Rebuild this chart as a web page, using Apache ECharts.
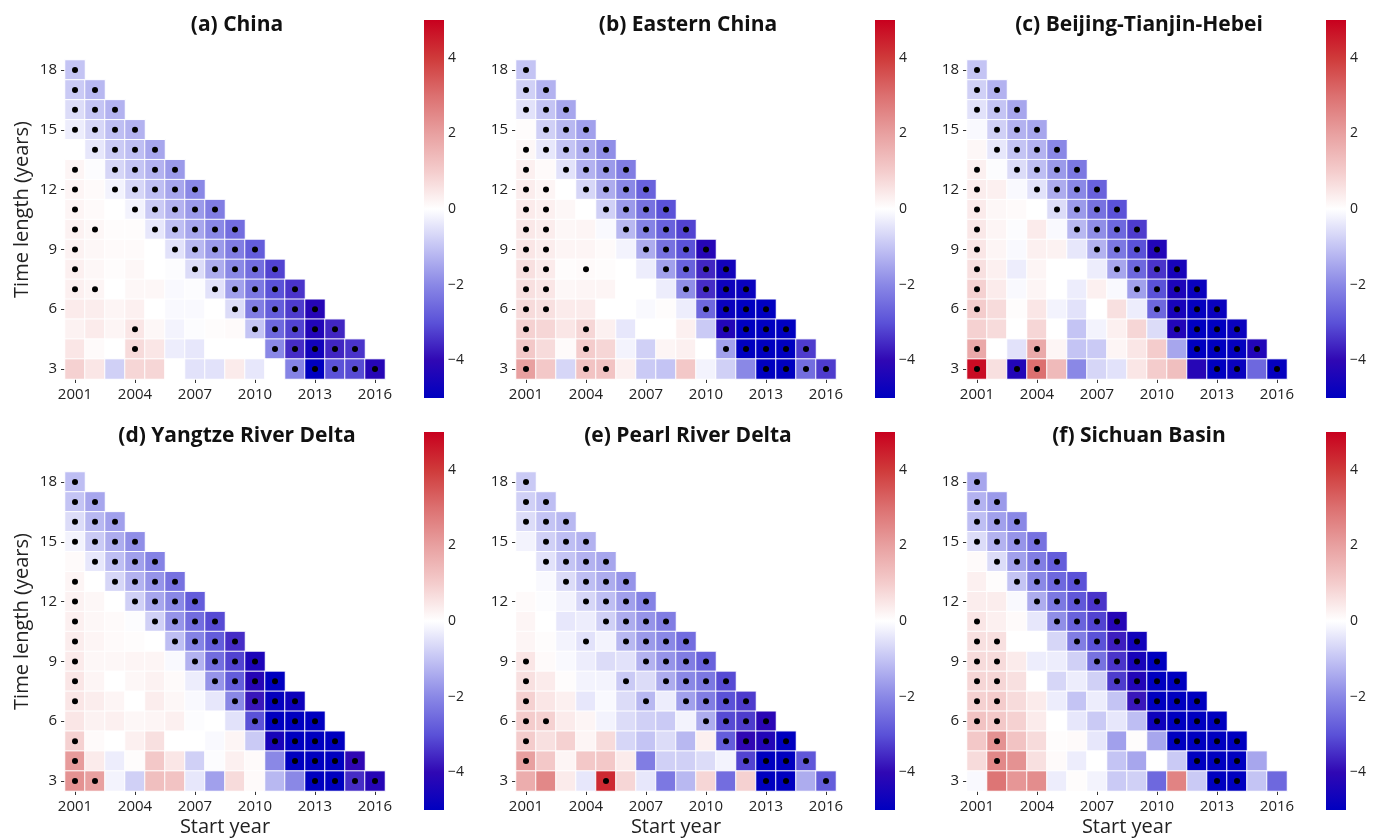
<!DOCTYPE html>
<html><head><meta charset="utf-8">
<script src="https://cdn.jsdelivr.net/npm/echarts@6/dist/echarts.min.js"></script>
<style>html,body{margin:0;padding:0;background:#fff}#c{width:1374px;height:839px}</style>
</head><body><div id="c"></div>
<script>
const years = ['2001','2002','2003','2004','2005','2006','2007','2008','2009','2010','2011','2012','2013','2014','2015','2016'];
const lengths = ['3','4','5','6','7','8','9','10','11','12','13','14','15','16','17','18'];
const titles = ['(a) China','(b) Eastern China','(c) Beijing-Tianjin-Hebei','(d) Yangtze River Delta','(e) Pearl River Delta','(f) Sichuan Basin'];
const colorbarTicks = [-4,-2,0,2,4];
const scaleMin = -5, scaleMax = 5;
const scaleColors = ['#0000c0','#3008b4','#5b52d8','#8a88e6','#c4c4f4','#ffffff','#f4cccc','#e8a0a0','#dc7070','#cf3a3a','#c8001e'];

// rows from time length 18 (top) down to 3; each row starts at 2001
const chinaVals = [
 [-1.0],
 [-0.9,-1.2],
 [-0.6,-1.0,-1.3],
 [-0.3,-0.7,-1.1,-1.3],
 [0.0,-0.4,-0.9,-1.1,-1.5],
 [0.2,-0.05,-0.7,-1.0,-1.3,-1.7],
 [0.2,0.1,-0.2,-0.7,-1.1,-1.5,-2.0],
 [0.2,0.1,0.0,-0.2,-0.9,-1.3,-1.7,-2.2],
 [0.25,0.15,0.05,0.05,-0.4,-1.1,-1.5,-2.0,-2.5],
 [0.25,0.15,0.1,0.1,0.0,-0.5,-1.2,-1.7,-2.2,-2.8],
 [0.3,0.15,0.05,0.15,0.0,-0.05,-0.6,-1.4,-2.0,-2.5,-3.2],
 [0.3,0.2,0.0,0.15,0.15,-0.1,-0.05,-0.5,-1.6,-2.3,-3.0,-3.4],
 [0.4,0.35,0.2,0.3,0.0,-0.1,-0.1,0.0,-0.6,-2.2,-2.8,-3.3,-4.2],
 [0.25,0.4,0.2,0.5,0.15,-0.2,-0.05,0.05,0.1,-1.0,-2.6,-3.2,-4.3,-3.6],
 [0.5,0.1,0.0,0.7,0.5,-0.3,-0.4,0.0,0.0,0.0,-2.0,-3.5,-4.6,-3.6,-3.4],
 [0.9,0.5,-0.8,0.8,0.8,0.0,-0.5,-0.5,0.4,-0.4,0.0,-2.1,-5.0,-3.0,-3.1,-4.2]
];
const chinaSig = ['1','11','111','1111','01111','101111','1011111','10011111','110011111','1000011111','10000011111','110000011111','0000000011111','00010000011111','000100000011111','0000000000011111'];

const easternVals = [
 [-1.0],
 [-0.8,-1.3],
 [-0.5,-1.0,-1.5],
 [0.05,-0.8,-1.2,-1.6],
 [0.15,-0.4,-1.0,-1.4,-1.9],
 [0.3,0.1,-0.5,-1.3,-1.7,-2.2],
 [0.35,0.2,0.0,-0.7,-1.4,-2.0,-2.7],
 [0.4,0.3,0.15,0.0,-0.8,-1.7,-2.4,-3.0],
 [0.45,0.35,0.15,0.2,-0.1,-1.2,-2.1,-2.7,-3.2],
 [0.5,0.35,0.2,0.2,0.1,-0.2,-1.4,-2.4,-3.0,-4.2],
 [0.6,0.4,0.05,0.1,0.05,0.0,-0.3,-1.6,-2.7,-3.6,-4.6],
 [0.6,0.5,0.15,0.2,0.2,0.0,0.0,-0.3,-1.9,-3.5,-4.7,-4.8],
 [0.7,0.6,0.4,0.4,0.0,0.0,-0.1,0.05,-0.3,-2.6,-4.8,-5.0,-5.0],
 [0.9,0.8,0.5,0.8,0.3,-0.4,0.0,0.0,0.3,-0.9,-4.3,-5.0,-5.0,-5.0],
 [1.1,0.7,0.1,1.0,0.8,-0.2,-0.8,0.2,0.3,0.0,-1.6,-5.0,-5.0,-5.0,-3.3],
 [2.0,1.1,-0.7,1.2,1.2,0.3,-0.9,-1.0,1.1,-0.2,-0.8,-2.0,-5.0,-5.0,-2.5,-3.3]
];
const easternSig = ['1','11','111','0111','11111','101111','1101111','11001111','110001111','1100001111','11010001111','110000001111','1100000001111','10010000001111','100100000011111','1001100000001111'];

const jjjVals = [
 [-1.0],
 [-0.8,-1.3],
 [-0.5,-1.0,-1.5],
 [-0.1,-0.8,-1.3,-1.5],
 [0.15,-0.4,-1.0,-1.3,-2.0],
 [0.3,-0.05,-0.6,-1.1,-1.7,-2.3],
 [0.35,0.3,-0.1,-0.5,-1.4,-2.0,-2.7],
 [0.4,0.15,0.1,0.0,-0.6,-1.7,-2.4,-3.0],
 [0.45,0.2,-0.05,0.4,-0.1,-1.2,-1.9,-2.6,-3.3],
 [0.5,0.2,-0.1,0.3,0.25,-0.4,-1.3,-2.3,-3.0,-4.3],
 [0.6,0.3,-0.3,0.2,0.0,0.0,-0.3,-1.5,-2.6,-3.4,-4.5],
 [0.9,0.4,-0.1,0.2,0.0,-0.3,0.3,-0.1,-1.6,-3.0,-4.4,-4.8],
 [1.0,0.7,0.05,0.5,-0.2,-0.5,0.0,0.6,-0.3,-2.6,-4.5,-4.9,-4.8],
 [0.9,0.7,0.0,0.8,0.0,-1.0,-0.2,0.3,0.8,-0.6,-4.3,-5.0,-5.0,-4.8],
 [1.8,0.0,-0.5,1.8,0.2,-1.0,-0.9,0.2,0.5,1.0,-1.5,-5.0,-5.0,-4.9,-4.3],
 [4.8,0.6,-4.3,3.0,1.4,-2.0,-0.7,-0.5,0.5,1.0,1.3,-4.2,-5.0,-4.8,-2.6,-4.9]
];
const jjjSig = ['1','11','111','0111','01111','101111','1001111','10001111','100001111','1000001111','10000001111','100000001111','1000000001111','00000000001111','100100000001111','1011000000001101'];

const yrdVals = [
 [-1.1],
 [-1.0,-1.5],
 [-0.6,-1.2,-1.6],
 [-0.2,-0.9,-1.4,-1.9],
 [0.1,-0.4,-1.1,-1.6,-2.1],
 [0.2,0.0,-0.7,-1.3,-1.8,-2.4],
 [0.25,0.15,0.0,-0.8,-1.5,-2.0,-2.8],
 [0.3,0.15,0.1,-0.05,-0.8,-1.8,-2.5,-3.1],
 [0.35,0.2,0.1,0.05,0.0,-1.1,-2.1,-2.8,-3.5],
 [0.4,0.15,0.15,0.2,0.2,-0.1,-1.3,-2.5,-3.2,-4.4],
 [0.5,0.2,0.0,0.15,0.25,0.1,-0.3,-1.8,-2.8,-4.2,-5.0],
 [0.5,0.35,0.2,0.0,0.35,0.15,-0.1,-0.4,-2.0,-3.8,-4.9,-4.7],
 [0.5,0.25,0.3,0.15,0.2,0.3,-0.05,0.0,-0.5,-3.0,-5.0,-5.0,-5.0],
 [0.9,0.1,0.0,0.3,0.6,0.0,0.0,-0.1,0.2,-0.9,-4.5,-5.0,-5.0,-5.0],
 [2.1,0.4,-0.3,0.05,1.1,0.5,-0.8,-0.05,0.3,0.1,-2.0,-5.0,-5.0,-5.0,-4.0],
 [2.3,2.0,-0.2,-0.8,1.3,1.2,-0.4,-1.6,0.7,0.1,-1.2,-2.0,-5.0,-5.0,-3.5,-4.2]
];
const yrdSig = ['1','11','111','1111','01111','101111','1001111','10001111','100001111','1000001111','10000001111','100000001111','0000000001111','10000000001111','100000000001111','1100000000001111'];

const prdVals = [
 [-0.9],
 [-0.8,-1.1],
 [-0.6,-1.0,-1.2],
 [-0.2,-0.8,-1.1,-1.3],
 [0.0,-0.5,-1.0,-1.3,-1.5],
 [0.0,-0.1,-0.6,-1.1,-1.4,-1.8],
 [0.1,-0.05,-0.2,-0.7,-1.1,-1.6,-2.1],
 [0.2,0.0,-0.4,-0.3,-0.8,-1.4,-1.8,-2.2],
 [0.2,0.05,-0.2,-0.5,-0.2,-1.2,-1.7,-2.0,-2.5],
 [0.5,0.1,-0.1,-0.3,-0.6,-0.5,-1.3,-1.8,-2.2,-2.7],
 [0.6,0.4,0.05,-0.2,-0.2,-0.9,-0.6,-1.4,-2.0,-2.3,-3.1],
 [0.9,0.5,0.3,-0.4,-0.1,-0.6,-1.2,-0.3,-1.6,-2.2,-3.0,-3.3],
 [1.0,0.9,0.4,0.2,-0.2,-0.6,-0.8,-0.9,-0.2,-1.4,-3.1,-3.3,-4.1],
 [1.0,0.6,0.9,0.2,0.7,-0.7,-1.0,-0.6,-1.2,0.3,-2.8,-4.0,-4.3,-5.0],
 [2.0,1.1,0.2,1.1,1.1,0.4,-2.2,-0.8,-0.8,-0.6,-0.2,-3.2,-5.0,-5.0,-2.9],
 [1.7,2.5,0.4,-0.4,4.3,0.8,-0.4,-2.3,-1.2,0.8,-2.5,0.9,-5.0,-5.0,-1.4,-2.8]
];
const prdSig = ['1','11','111','0111','01111','001111','0001111','00001111','000101111','1000001111','10000101111','100000101111','1100000001111','10000000001111','100000000001111','0000100000001101'];

const sichuanVals = [
 [-1.5],
 [-1.3,-1.7],
 [-1.1,-1.6,-2.0],
 [-0.6,-1.3,-1.8,-2.4],
 [0.1,-0.6,-1.6,-2.2,-2.8],
 [0.3,0.05,-1.0,-2.0,-2.6,-3.0],
 [0.35,0.35,-0.1,-1.4,-2.3,-2.9,-3.4],
 [0.5,0.3,0.1,-0.4,-1.9,-2.7,-3.2,-4.2],
 [0.6,0.6,0.0,0.0,-0.7,-2.2,-3.0,-3.7,-4.6],
 [0.7,0.7,0.4,-0.3,-0.3,-0.8,-2.4,-3.4,-4.5,-5.0],
 [0.8,0.8,0.6,0.0,-0.7,-0.3,-0.8,-3.3,-4.3,-5.0,-5.0],
 [0.9,1.0,0.7,0.4,-0.3,-1.0,-0.3,-1.0,-3.8,-5.0,-5.0,-5.0],
 [1.2,1.1,0.9,0.4,0.0,-0.4,-0.9,-0.4,-1.1,-4.7,-5.0,-5.0,-5.0],
 [1.1,2.3,1.2,0.7,0.05,0.1,-0.4,-1.6,0.05,-1.5,-5.0,-5.0,-5.0,-5.0],
 [0.7,2.5,2.3,0.6,0.1,-0.3,0.0,-1.0,-1.5,0.0,-0.9,-5.0,-5.0,-5.0,-1.5],
 [-0.1,2.9,2.2,2.4,-0.3,0.05,-0.2,-0.9,-0.8,-2.6,2.6,-0.9,-5.0,-5.0,-1.0,-2.6]
];
const sichuanSig = ['1','11','111','1111','01111','001111','0001111','10001111','110001111','1100001111','11000001111','110000001111','1100000001111','01000000001111','010000000001110','0000000000001100'];

const panelVals = [chinaVals, easternVals, jjjVals, yrdVals, prdVals, sichuanVals];
const panelSig = [chinaSig, easternSig, jjjSig, yrdSig, prdSig, sichuanSig];

// layout
const colLeft = [65, 516, 967];
const rowTop = [60, 472];
const gridW = 320, gridH = 319;
const FONT = '"Open Sans", "DejaVu Sans", sans-serif';

const grids = [], xAxes = [], yAxes = [], series = [], titleArr = [];
const gradStops = scaleColors.map((c, i) => ({offset: 1 - i / (scaleColors.length - 1), color: c})).reverse();

for (let p = 0; p < 6; p++) {
  const r = Math.floor(p / 3), c = p % 3;
  const left = colLeft[c], top = rowTop[r];
  const gi = grids.length;
  grids.push({left: left, top: top, width: gridW, height: gridH, containLabel: false});
  grids.push({left: left + 359, top: top - 40, width: 20, height: 378, containLabel: false});
  xAxes.push({
    type: 'category', gridIndex: gi, data: years, boundaryGap: true,
    axisLine: {show: false},
    axisTick: {show: true, alignWithLabel: true, interval: 2, length: 4, lineStyle: {color: '#333'}},
    axisLabel: {interval: 2, fontSize: 15, color: '#222', margin: 8, fontFamily: FONT},
    splitLine: {show: false},
    name: r === 1 ? 'Start year' : '', nameLocation: 'middle', nameGap: 26,
    nameTextStyle: {fontSize: 20, color: '#222', fontFamily: FONT}
  });
  xAxes.push({type: 'value', gridIndex: gi + 1, min: 0, max: 1, show: false});
  yAxes.push({
    type: 'category', gridIndex: gi, data: lengths, boundaryGap: true,
    axisLine: {show: false},
    axisTick: {show: true, alignWithLabel: true, interval: 2, length: 4, lineStyle: {color: '#333'}},
    axisLabel: {interval: 2, fontSize: 15, color: '#222', margin: 8, fontFamily: FONT},
    splitLine: {show: false},
    name: c === 0 ? 'Time length (years)' : '', nameLocation: 'middle', nameRotate: 90, nameGap: 33,
    nameTextStyle: {fontSize: 20, color: '#222', fontFamily: FONT, padding: [0, 0, 0, 20]}
  });
  yAxes.push({
    type: 'value', gridIndex: gi + 1, min: scaleMin, max: scaleMax, position: 'right',
    axisLine: {show: false}, splitLine: {show: false},
    axisTick: {show: true, length: 3, lineStyle: {color: '#333'}, customValues: colorbarTicks},
    axisLabel: {fontSize: 14, color: '#222', margin: 4, fontFamily: FONT, customValues: colorbarTicks,
      formatter: v => String(v).replace('-', '\u2212')}
  });
  const heat = [], dots = [];
  const vals = panelVals[p], sig = panelSig[p];
  vals.forEach((row, ri) => {
    const L = 18 - ri;
    row.forEach((v, ci) => {
      heat.push([ci, L - 3, v]);
      if (sig[ri][ci] === '1') dots.push([ci, L - 3]);
    });
  });
  series.push({
    type: 'heatmap', xAxisIndex: gi, yAxisIndex: gi, data: heat,
    itemStyle: {borderColor: '#ffffff', borderWidth: 1},
    emphasis: {disabled: true}, silent: true
  });
  series.push({
    type: 'scatter', xAxisIndex: gi, yAxisIndex: gi, data: dots,
    symbol: 'circle', symbolSize: 6, itemStyle: {color: '#000', opacity: 1}, z: 5, silent: true
  });
  series.push({
    type: 'custom', xAxisIndex: gi + 1, yAxisIndex: gi + 1, data: [[0.5, 0]], silent: true,
    renderItem: (params, api) => {
      const cs = params.coordSys;
      return {type: 'rect', shape: {x: cs.x, y: cs.y, width: cs.width, height: cs.height},
        style: {fill: {type: 'linear', x: 0, y: 0, x2: 0, y2: 1, colorStops: gradStops}}};
    }
  });
  titleArr.push({
    text: titles[p], left: left + 167, top: r === 0 ? 10 : 421, textAlign: 'center',
    textStyle: {fontSize: 21, fontWeight: 'bold', color: '#111', fontFamily: FONT}
  });
}

const chart = echarts.init(document.getElementById('c'), null, {renderer: 'canvas'});
chart.setOption({
  animation: false,
  backgroundColor: '#ffffff',
  title: titleArr,
  grid: grids, xAxis: xAxes, yAxis: yAxes,
  visualMap: [{
    type: 'continuous', show: false, min: scaleMin, max: scaleMax, dimension: 2,
    seriesIndex: [0, 3, 6, 9, 12, 15],
    inRange: {color: scaleColors}
  }],
  series: series
});
</script></body></html>
